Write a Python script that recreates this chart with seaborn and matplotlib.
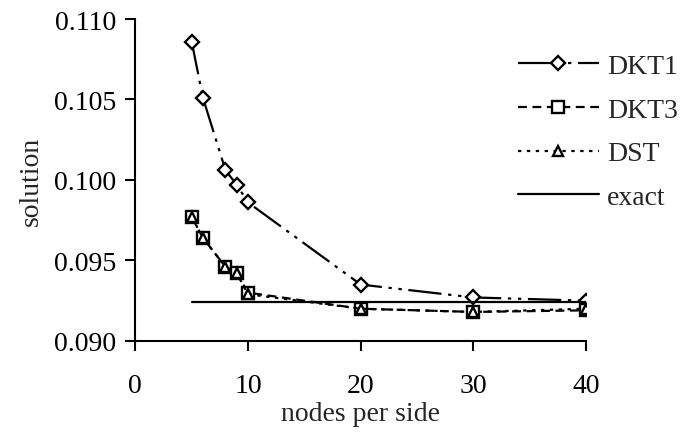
import pandas as pd
import seaborn as sns
import matplotlib.pyplot as plt
from matplotlib.ticker import FormatStrFormatter

nodes = [5, 6, 8, 9, 10, 20, 30, 40]
dkt1 = [0.1086, 0.1051, 0.1006, 0.0997, 0.0986, 0.0935, 0.0927, 0.0925]
dkt3 = [0.0977, 0.0964, 0.0946, 0.0942, 0.0930, 0.0920, 0.0918, 0.0919]
dst = [0.0977, 0.0964, 0.0946, 0.0942, 0.0929, 0.0920, 0.0918, 0.0920]
exact_x = [5, 40]
exact_val = 0.0924

sns.set_style('ticks')
plt.rcParams['font.family'] = ['Liberation Serif', 'DejaVu Serif']
plt.rcParams['font.size'] = 20

fig = plt.figure(figsize=(6.8, 4.35), dpi=100)
ax = fig.add_axes([0.199, 0.214, 0.663, 0.740])

series = [
    ('DKT1', dkt1, 'D', 7.0, (0, (15, 3, 1.5, 3, 1.5, 3))),
    ('DKT3', dkt3, 's', 8.5, (0, (4, 2.5))),
    ('DST', dst, '^', 7.0, (0, (1.5, 2.5))),
]

for name, vals, mk, ms, ls in series:
    df = pd.DataFrame({'nodes': nodes, 'solution': vals})
    sns.lineplot(data=df, x='nodes', y='solution', ax=ax, color='black',
                 linewidth=1.6, linestyle=ls, marker=mk, markersize=ms,
                 markerfacecolor='white', markeredgecolor='black',
                 markeredgewidth=1.7, label=name)

exact_df = pd.DataFrame({'nodes': exact_x, 'solution': [exact_val] * 2})
sns.lineplot(data=exact_df, x='nodes', y='solution', ax=ax, color='black',
             linewidth=1.6, label='exact')

ax.set_xlim(0, 40)
ax.set_ylim(0.090, 0.110)
ax.set_xticks([0, 10, 20, 30, 40])
ax.set_yticks([0.090, 0.095, 0.100, 0.105, 0.110])
ax.yaxis.set_major_formatter(FormatStrFormatter('%.3f'))
ax.set_xlabel('nodes per side', fontsize=20, labelpad=2)
ax.set_ylabel('solution', fontsize=20, labelpad=7)
ax.tick_params(axis='both', direction='out', length=7, width=1.5,
               labelsize=20, color='black', labelcolor='black')
ax.tick_params(axis='x', pad=16)
ax.tick_params(axis='y', pad=7)

for side in ['top', 'right']:
    ax.spines[side].set_visible(False)
for side in ['left', 'bottom']:
    ax.spines[side].set_linewidth(1.5)
    ax.spines[side].set_color('black')

ax.legend(loc='upper left', bbox_to_anchor=(0.762, 0.875),
          bbox_transform=fig.transFigure, frameon=False, fontsize=20,
          handlelength=2.9, handletextpad=0.3, labelspacing=0.66,
          borderaxespad=0, borderpad=0)

fig.savefig('out.png', dpi=100)
